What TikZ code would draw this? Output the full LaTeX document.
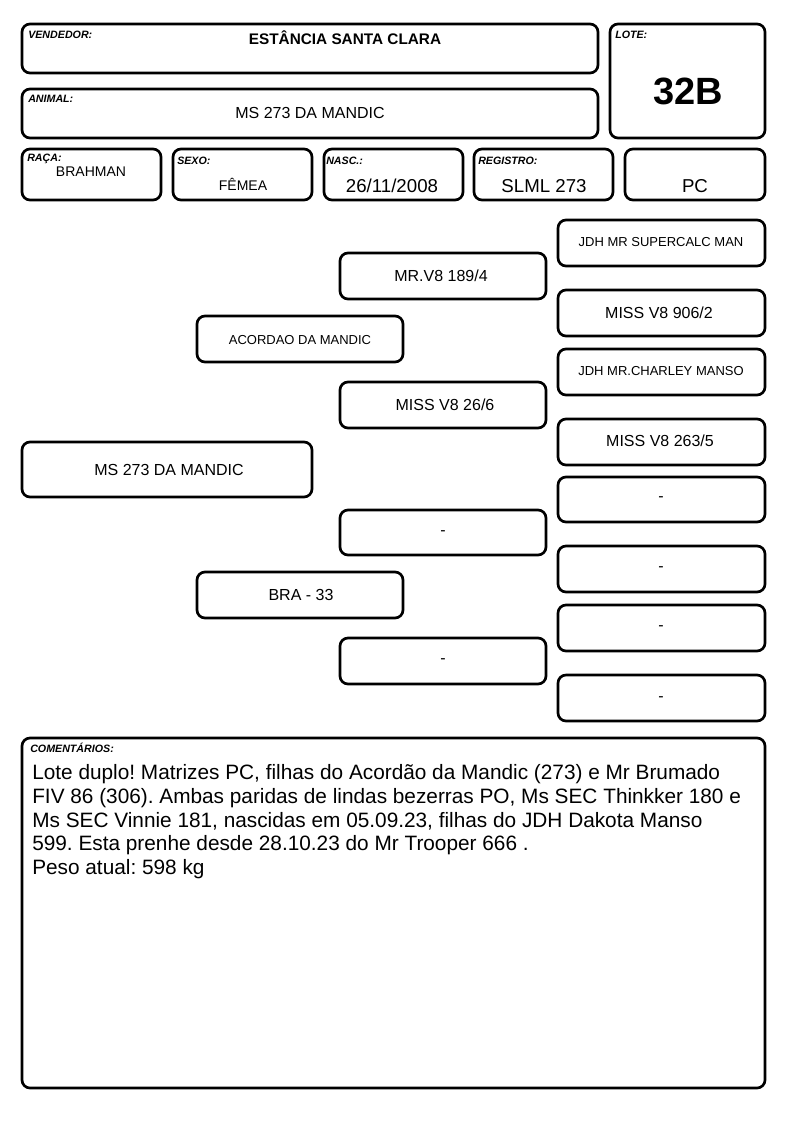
\documentclass[tikz,border=0pt]{standalone}
\usepackage{fontspec}
\setmainfont{Liberation Sans}
\frenchspacing
\tikzset{
  box/.style={draw, line width=2pt, rounded corners=6pt},
  tag/.style={anchor=west, inner sep=0pt, font=\fontsize{8}{9}\selectfont\bfseries\itshape},
  big/.style={inner sep=0pt, font=\fontsize{12}{14}\selectfont},
  small/.style={inner sep=0pt, font=\fontsize{9.75}{11}\selectfont},
}
\begin{document}
\begin{tikzpicture}[x=0.75pt, y=-0.75pt]
\useasboundingbox (0,0) rectangle (794,1123);

% header
\draw[box] (22,24) rectangle (598,73);
\draw[box] (22,89) rectangle (598,138);
\draw[box] (610,24) rectangle (765,138);
\draw[box] (22,149) rectangle (161,200);
\draw[box] (173,149) rectangle (312,200);
\draw[box] (324,149) rectangle (463,200);
\draw[box] (474,149) rectangle (613,200);
\draw[box] (625,149) rectangle (765,200);

\node[tag] (vendedortag) at (28,35) {VENDEDOR:};
\node[inner sep=0pt, font=\fontsize{11.5}{13}\selectfont\bfseries] (vendedor) at (345,38) {ESTÂNCIA SANTA CLARA};
\node[tag] (animaltag) at (28,99) {ANIMAL:};
\node[big] (animal) at (310,113) {MS 273 DA MANDIC};
\node[tag] (lotetag) at (615,35) {LOTE:};
\node[inner sep=0pt, font=\fontsize{28.5}{30}\selectfont\bfseries] (lote) at (688,91) {32B};
\node[tag] (racatag) at (27,159) {RAÇA:};
\node[inner sep=0pt, font=\fontsize{10.5}{12}\selectfont] (raca) at (91,172) {BRAHMAN};
\node[tag] (sexotag) at (177,161) {SEXO:};
\node[inner sep=0pt, font=\fontsize{10.5}{12}\selectfont] (sexo) at (243,184) {FÊMEA};
\node[tag] (nasctag) at (326,161) {NASC.:};
\node[inner sep=0pt, font=\fontsize{14}{16}\selectfont] (nasc) at (392,186) {26/11/2008};
\node[tag] (registrotag) at (478,161) {REGISTRO:};
\node[inner sep=0pt, font=\fontsize{14}{16}\selectfont] (registro) at (544,186) {SLML 273};
\node[inner sep=0pt, font=\fontsize{14}{16}\selectfont] (classe) at (695,186) {PC};

% pedigree
\draw[box] (22,442) rectangle (312,497);
\draw[box] (197,316) rectangle (403,362);
\draw[box] (197,572) rectangle (403,618);
\draw[box] (340,253) rectangle (546,299);
\draw[box] (340,382) rectangle (546,428);
\draw[box] (340,510) rectangle (546,555);
\draw[box] (340,638) rectangle (546,684);
\draw[box] (558,220) rectangle (765,266);
\draw[box] (558,290) rectangle (765,336);
\draw[box] (558,349) rectangle (765,395);
\draw[box] (558,419) rectangle (765,465);
\draw[box] (558,477) rectangle (765,522);
\draw[box] (558,546) rectangle (765,592);
\draw[box] (558,605) rectangle (765,651);
\draw[box] (558,675) rectangle (765,721);

\node[big] (animalped) at (169,470) {MS 273 DA MANDIC};
\node[small] (pai) at (300,340) {ACORDAO DA MANDIC};
\node[big] (mae) at (301,595) {BRA - 33};
\node[big] (avopp) at (441,276) {MR.V8 189/4};
\node[big] (avopm) at (445,405) {MISS V8 26/6};
\node[big] (avomp) at (443,533) {-};
\node[big] (avomm) at (443,661) {-};
\node[small] (bisa1) at (661,242) {JDH MR SUPERCALC MAN};
\node[big] (bisa2) at (659,313) {MISS V8 906/2};
\node[small] (bisa3) at (661,371) {JDH MR.CHARLEY MANSO};
\node[big] (bisa4) at (660,441) {MISS V8 263/5};
\node[big] (bisa5) at (661,499) {-};
\node[big] (bisa6) at (661,569) {-};
\node[big] (bisa7) at (661,628) {-};
\node[big] (bisa8) at (661,699) {-};

% comentarios
\draw[box] (22,738) rectangle (765,1088);
\node[tag] (comentag) at (30,748) {COMENTÁRIOS:};
\node[anchor=north west, inner sep=0pt, align=left, font=\fontsize{15.6}{17.9}\selectfont] (comentarios) at (32,764)
  {Lote duplo! Matrizes PC, filhas do Acordão da Mandic (273) e Mr Brumado\\
   FIV 86 (306). Ambas paridas de lindas bezerras PO, Ms SEC Thinkker 180 e\\
   Ms SEC Vinnie 181, nascidas em 05.09.23, filhas do JDH Dakota Manso\\
   599. Esta prenhe desde 28.10.23 do Mr Trooper 666 .\\
   Peso atual: 598 kg};
\end{tikzpicture}
\end{document}
